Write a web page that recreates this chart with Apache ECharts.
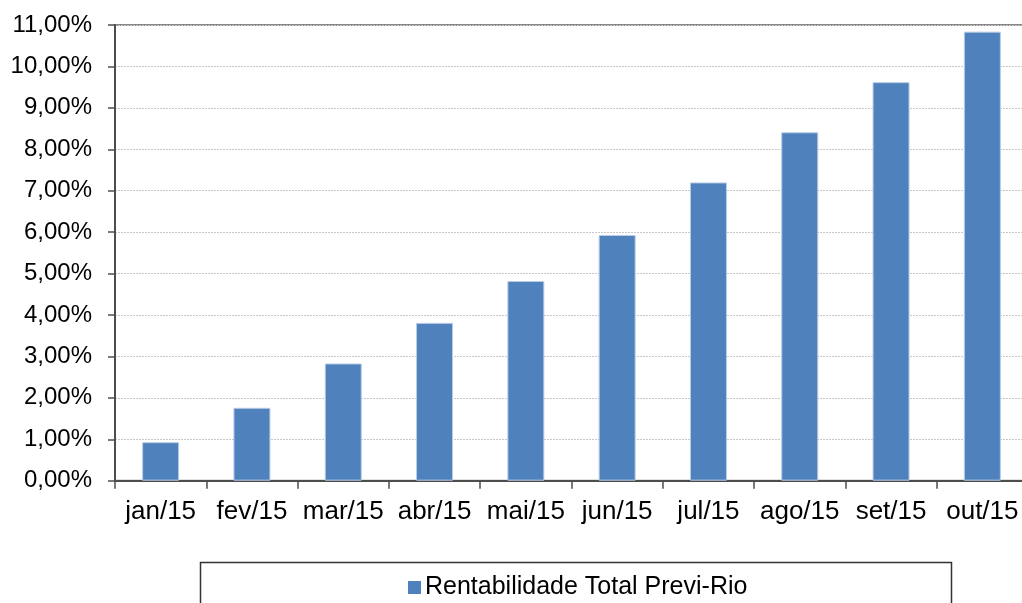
<!DOCTYPE html>
<html>
<head>
<meta charset="utf-8">
<script src="https://cdn.jsdelivr.net/npm/echarts@6/dist/echarts.min.js"></script>
<style>
  html, body { margin: 0; padding: 0; background: #ffffff; }
  #chart { width: 1022px; height: 603px; }
</style>
</head>
<body>
<div id="chart"></div>
<script>
// Cumulative monthly return, 2015
const months = ['jan/15', 'fev/15', 'mar/15', 'abr/15', 'mai/15', 'jun/15', 'jul/15', 'ago/15', 'set/15', 'out/15'];
const rentabilidade = [0.93, 1.76, 2.83, 3.81, 4.82, 5.93, 7.20, 8.41, 9.62, 10.84];
const yTickLabels = ['0,00%', '1,00%', '2,00%', '3,00%', '4,00%', '5,00%', '6,00%', '7,00%', '8,00%', '9,00%', '10,00%', '11,00%'];
const seriesName = 'Rentabilidade Total Previ-Rio';

const FONT = '"Liberation Sans", Arial, sans-serif';
const chart = echarts.init(document.getElementById('chart'), null, { renderer: 'canvas' });

chart.setOption({
  backgroundColor: '#ffffff',
  animation: false,
  textStyle: { fontFamily: FONT, color: '#000000' },
  // plot area runs slightly past the right edge of the canvas
  grid: {
    left: 115, top: 25, width: 913, height: 455.7,
    outerBoundsMode: 'none',
    containLabel: false,
    show: true, borderColor: '#868686', borderWidth: 2, backgroundColor: 'transparent'
  },
  xAxis: {
    type: 'category',
    data: months,
    axisLine: { lineStyle: { color: '#4d4d4d', width: 2 } },
    axisTick: { show: true, length: 8, interval: 0, alignWithLabel: false, lineStyle: { color: '#4d4d4d', width: 1.5 } },
    axisLabel: { color: '#000000', fontFamily: FONT, fontSize: 26, margin: 18, interval: 0 },
    splitLine: { show: false }
  },
  yAxis: {
    type: 'value',
    min: 0, max: 11, interval: 1,
    axisLine: { show: true, lineStyle: { color: '#4d4d4d', width: 2 } },
    axisTick: { show: true, length: 7, lineStyle: { color: '#4d4d4d', width: 1.5 } },
    axisLabel: {
      color: '#000000', fontFamily: FONT, fontSize: 24, margin: 23,
      formatter: v => yTickLabels[Math.round(v)]
    },
    splitLine: { show: true, lineStyle: { color: '#c8c8c8', width: 1, type: [2, 1] } }
  },
  legend: {
    data: [seriesName],
    left: 408, top: 575,
    padding: 0,
    icon: 'rect',
    itemWidth: 13, itemHeight: 13,
    itemStyle: { borderWidth: 0 },
    textStyle: { fontFamily: FONT, fontSize: 25, color: '#000000', padding: [0, 0, 0, -1] }
  },
  graphic: [{
    type: 'rect',
    shape: { x: 200.5, y: 562.5, width: 751, height: 60 },
    style: { fill: 'none', stroke: '#333333', lineWidth: 1.5 },
    silent: true,
    z: -1
  }],
  series: [{
    name: seriesName,
    type: 'bar',
    data: rentabilidade,
    barWidth: 37,
    itemStyle: { color: '#4f81bd', borderColor: '#b9cde5', borderWidth: 1 }
  }]
});
</script>
</body>
</html>
